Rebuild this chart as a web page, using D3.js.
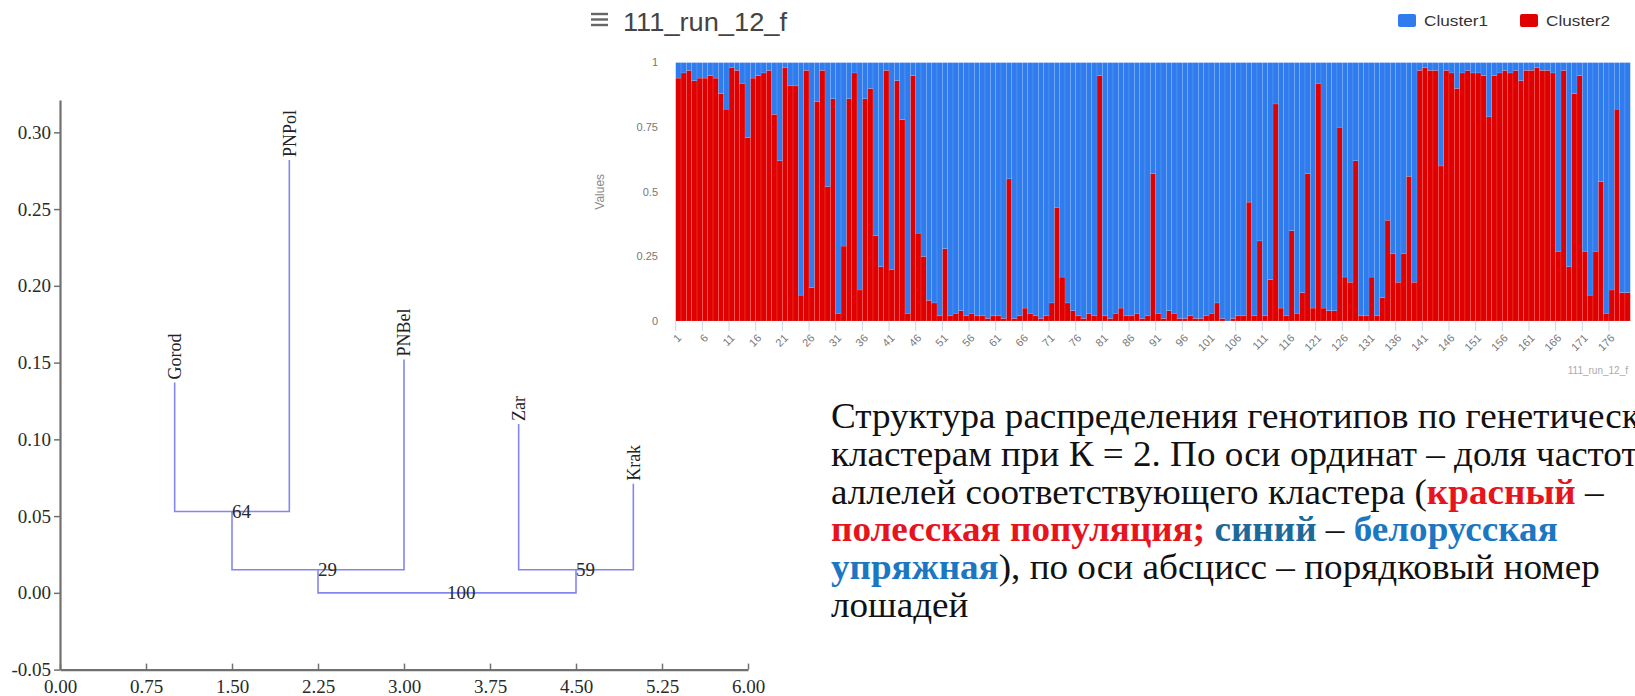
<!DOCTYPE html>
<html>
<head>
<meta charset="utf-8">
<script src="https://cdn.jsdelivr.net/npm/d3@7"></script>
<style>
  html, body { margin: 0; padding: 0; background: #fff; }
  svg { display: block; }
</style>
</head>
<body>
<svg id="chart" width="1635" height="696"></svg>
<script>
// ---- dendrogram (left) ----
const leafNames = ['Gorod', 'PNPol', 'PNBel', 'Zar', 'Krak']
const leafPos = [1, 2, 3, 4, 5]
const leafHeight = [0.137, 0.282, 0.152, 0.110, 0.071]
// merges refer to leaves 0..4, then to earlier merges 5, 6, ...
const mergeLeft = [0, 5, 3, 6]
const mergeRight = [1, 2, 4, 7]
const mergeHeight = [0.053, 0.015, 0.015, 0.0]
const mergeSupport = ['64', '29', '59', '100']
const dendroXTicks = [0, 0.75, 1.5, 2.25, 3, 3.75, 4.5, 5.25, 6]
const dendroYTicks = [-0.05, 0, 0.05, 0.1, 0.15, 0.2, 0.25, 0.3]

// ---- structure plot (top right) ----
const chartTitle = '111_run_12_f'
const clusterNames = ['Cluster1', 'Cluster2']
const horseIds = d3.range(1, 180)
const cluster2 = [
  0.94, 0.96, 0.97, 0.93, 0.94, 0.94, 0.95, 0.94, 0.88, 0.82,
  0.98, 0.97, 0.92, 0.71, 0.94, 0.95, 0.96, 0.97, 0.80, 0.62,
  0.98, 0.91, 0.91, 0.10, 0.97, 0.13, 0.85, 0.97, 0.52, 0.86,
  0.03, 0.29, 0.86, 0.96, 0.12, 0.86, 0.90, 0.33, 0.21, 0.97,
  0.20, 0.93, 0.78, 0.03, 0.95, 0.34, 0.25, 0.08, 0.07, 0.02,
  0.28, 0.02, 0.03, 0.04, 0.02, 0.03, 0.02, 0.02, 0.01, 0.02,
  0.02, 0.01, 0.55, 0.01, 0.02, 0.05, 0.03, 0.02, 0.01, 0.02,
  0.07, 0.44, 0.17, 0.07, 0.04, 0.02, 0.01, 0.03, 0.02, 0.95,
  0.02, 0.01, 0.03, 0.05, 0.02, 0.02, 0.03, 0.01, 0.02, 0.57,
  0.03, 0.01, 0.04, 0.03, 0.01, 0.01, 0.02, 0.01, 0.01, 0.02,
  0.03, 0.07, 0.01, 0.00, 0.01, 0.02, 0.02, 0.46, 0.02, 0.31,
  0.02, 0.16, 0.84, 0.05, 0.02, 0.35, 0.03, 0.11, 0.57, 0.05,
  0.92, 0.05, 0.04, 0.04, 0.75, 0.17, 0.15, 0.62, 0.02, 0.02,
  0.17, 0.02, 0.09, 0.39, 0.26, 0.15, 0.26, 0.56, 0.15, 0.97,
  0.98, 0.97, 0.97, 0.60, 0.97, 0.96, 0.90, 0.96, 0.97, 0.96,
  0.96, 0.95, 0.79, 0.95, 0.96, 0.97, 0.96, 0.97, 0.93, 0.97,
  0.97, 0.98, 0.97, 0.97, 0.96, 0.27, 0.97, 0.21, 0.88, 0.95,
  0.27, 0.10, 0.27, 0.54, 0.03, 0.12, 0.82, 0.11, 0.11
]
const cluster1 = [
  0.06, 0.04, 0.03, 0.07, 0.06, 0.06, 0.05, 0.06, 0.12, 0.18,
  0.02, 0.03, 0.08, 0.29, 0.06, 0.05, 0.04, 0.03, 0.20, 0.38,
  0.02, 0.09, 0.09, 0.90, 0.03, 0.87, 0.15, 0.03, 0.48, 0.14,
  0.97, 0.71, 0.14, 0.04, 0.88, 0.14, 0.10, 0.67, 0.79, 0.03,
  0.80, 0.07, 0.22, 0.97, 0.05, 0.66, 0.75, 0.92, 0.93, 0.98,
  0.72, 0.98, 0.97, 0.96, 0.98, 0.97, 0.98, 0.98, 0.99, 0.98,
  0.98, 0.99, 0.45, 0.99, 0.98, 0.95, 0.97, 0.98, 0.99, 0.98,
  0.93, 0.56, 0.83, 0.93, 0.96, 0.98, 0.99, 0.97, 0.98, 0.05,
  0.98, 0.99, 0.97, 0.95, 0.98, 0.98, 0.97, 0.99, 0.98, 0.43,
  0.97, 0.99, 0.96, 0.97, 0.99, 0.99, 0.98, 0.99, 0.99, 0.98,
  0.97, 0.93, 0.99, 1.00, 0.99, 0.98, 0.98, 0.54, 0.98, 0.69,
  0.98, 0.84, 0.16, 0.95, 0.98, 0.65, 0.97, 0.89, 0.43, 0.95,
  0.08, 0.95, 0.96, 0.96, 0.25, 0.83, 0.85, 0.38, 0.98, 0.98,
  0.83, 0.98, 0.91, 0.61, 0.74, 0.85, 0.74, 0.44, 0.85, 0.03,
  0.02, 0.03, 0.03, 0.40, 0.03, 0.04, 0.10, 0.04, 0.03, 0.04,
  0.04, 0.05, 0.21, 0.05, 0.04, 0.03, 0.04, 0.03, 0.07, 0.03,
  0.03, 0.02, 0.03, 0.03, 0.04, 0.73, 0.03, 0.79, 0.12, 0.05,
  0.73, 0.90, 0.73, 0.46, 0.97, 0.88, 0.18, 0.89, 0.89
]
const valueTicks = [0, 0.25, 0.5, 0.75, 1]

// ---- caption (bottom right); the slide crops the first two lines at its edge ----
const captionLines = [
  [['Структура распределения генотипов по генетическ', 'n']],
  [['кластерам при К = 2. По оси ординат – доля частот', 'n']],
  [['аллелей соответствующего кластера (', 'n'], ['красный', 'red'], [' –', 'n']],
  [['полесская популяция;', 'red'], [' ', 'n'], ['синий', 'navy'], [' – ', 'n'], ['белорусская', 'blue']],
  [['упряжная', 'blue'], ['), по оси абсцисс – порядковый номер', 'n']],
  [['лошадей', 'n']]
]

const svg = d3.select('#chart')
const serif = "'Liberation Serif', 'Times New Roman', serif"
const narrow = "'Liberation Sans Narrow', 'Arial Narrow', 'Liberation Sans', sans-serif"
const sans = "'Liberation Sans', Arial, sans-serif"

svg.append('rect').attr('width', 1635).attr('height', 696).attr('fill', '#fff')

// ===== dendrogram =====
const dx = d3.scaleLinear().domain([0, 6]).range([60, 748])
const dy = d3.scaleLinear().domain([-0.05, 0.321]).range([669.6, 100.1])
const dendro = svg.append('g')

const yAx = dendro.append('g')
  .attr('transform', `translate(${dx(0)},0)`)
  .call(d3.axisLeft(dy).tickValues(dendroYTicks).tickSize(6).tickSizeOuter(0).tickPadding(3)
    .tickFormat(d => d.toFixed(2)))
const xAx = dendro.append('g')
  .attr('transform', `translate(0,${dy(-0.05)})`)
  .call(d3.axisBottom(dx).tickValues(dendroXTicks).tickSizeInner(-6).tickSizeOuter(0).tickPadding(10)
    .tickFormat(d => d.toFixed(2)))
;[yAx, xAx].forEach(a => {
  a.attr('font-family', serif).attr('font-size', 19)
  a.select('.domain').attr('stroke', '#707070').attr('stroke-width', 2.2)
  a.selectAll('.tick line').attr('stroke', '#707070').attr('stroke-width', 1.5)
  a.selectAll('.tick text').attr('fill', '#2a2a2a')
})

// node positions: leaves first, then merges
const nodeX = leafPos.slice()
const nodeH = leafHeight.slice()
mergeLeft.forEach((l, k) => {
  nodeX.push((nodeX[l] + nodeX[mergeRight[k]]) / 2)
  nodeH.push(mergeHeight[k])
})

dendro.append('g').selectAll('path')
  .data(mergeLeft.map((l, k) => ({ l, r: mergeRight[k], h: mergeHeight[k] })))
  .join('path')
  .attr('d', m => `M${dx(nodeX[m.l])},${dy(nodeH[m.l])}V${dy(m.h)}H${dx(nodeX[m.r])}V${dy(nodeH[m.r])}`)
  .attr('fill', 'none')
  .attr('stroke', '#8585f2')
  .attr('stroke-width', 1.6)

dendro.append('g').selectAll('text')
  .data(leafNames)
  .join('text')
  .attr('transform', (d, i) => `translate(${dx(leafPos[i])},${dy(leafHeight[i]) - 3}) rotate(-90)`)
  .attr('dy', '0.35em')
  .attr('font-family', serif)
  .attr('font-size', 18)
  .attr('fill', '#222')
  .text(d => d)

dendro.append('g').selectAll('text')
  .data(mergeSupport)
  .join('text')
  .attr('x', (d, k) => dx(nodeX[leafNames.length + k]))
  .attr('y', (d, k) => dy(mergeHeight[k]))
  .attr('dy', '0.35em')
  .attr('font-family', serif)
  .attr('font-size', 19)
  .attr('fill', '#2a2a2a')
  .text(d => d)

// ===== structure bar chart =====
const plot = { left: 675.7, right: 1630.3, top: 62.6, bottom: 321 }
const x = d3.scaleBand().domain(horseIds).range([plot.left, plot.right]).padding(0)
const y = d3.scaleLinear().domain([0, 1]).range([plot.bottom, plot.top])
const colour = { Cluster1: '#2f7cee', Cluster2: '#e00000' }

const rows = horseIds.map((id, i) => ({ id, Cluster1: cluster1[i], Cluster2: cluster2[i] }))
const stacked = d3.stack().keys(['Cluster2', 'Cluster1'])(rows)

svg.append('g').selectAll('g')
  .data(stacked)
  .join('g')
  .attr('fill', s => colour[s.key])
  .selectAll('rect')
  .data(s => s)
  .join('rect')
  .attr('x', d => x(d.data.id))
  .attr('width', x.bandwidth())
  .attr('y', d => y(d[1]))
  .attr('height', d => Math.max(0, y(d[0]) - y(d[1])))
  .attr('stroke', '#fff')
  .attr('stroke-opacity', 0.22)
  .attr('stroke-width', 0.5)

const labelIds = horseIds.filter(id => (id - 1) % 5 === 0)
const xAxisG = svg.append('g')
xAxisG.selectAll('line')
  .data(labelIds)
  .join('line')
  .attr('x1', d => x(d)).attr('x2', d => x(d))
  .attr('y1', plot.bottom).attr('y2', plot.bottom + 10)
  .attr('stroke', '#ccd6eb')
xAxisG.selectAll('text')
  .data(labelIds)
  .join('text')
  .attr('transform', d => `translate(${x(d) + x.bandwidth() / 2 + 1},${plot.bottom + 15}) rotate(-45)`)
  .attr('text-anchor', 'end')
  .attr('dy', '0.35em')
  .attr('font-family', sans)
  .attr('font-size', 11)
  .attr('fill', '#777')
  .text(d => d)

svg.append('g').selectAll('text')
  .data(valueTicks)
  .join('text')
  .attr('x', 658)
  .attr('y', d => y(d))
  .attr('dy', '0.35em')
  .attr('text-anchor', 'end')
  .attr('font-family', sans)
  .attr('font-size', 11)
  .attr('fill', '#777')
  .text(d => String(d))

svg.append('text')
  .attr('transform', `translate(604,${(plot.top + plot.bottom) / 2}) rotate(-90)`)
  .attr('text-anchor', 'middle')
  .attr('font-family', sans)
  .attr('font-size', 12)
  .attr('fill', '#888')
  .text('Values')

// title with menu icon
svg.append('g').selectAll('rect')
  .data([14, 19.5, 25])
  .join('rect')
  .attr('x', 591).attr('y', d => d - 1.2)
  .attr('width', 17).attr('height', 2.4)
  .attr('fill', '#666')
svg.append('text')
  .attr('x', 623).attr('y', 31)
  .attr('font-family', narrow)
  .attr('font-size', 25)
  .attr('fill', '#444')
  .attr('textLength', 164)
  .attr('lengthAdjust', 'spacingAndGlyphs')
  .text(chartTitle)

// legend
const legendX = [1398, 1520]
const legend = svg.append('g').selectAll('g')
  .data(clusterNames)
  .join('g')
  .attr('transform', (d, i) => `translate(${legendX[i]},0)`)
legend.append('rect')
  .attr('x', 0).attr('y', 14).attr('width', 18).attr('height', 13).attr('rx', 2)
  .attr('fill', d => colour[d])
legend.append('text')
  .attr('x', 26).attr('y', 26)
  .attr('font-family', narrow)
  .attr('font-size', 15)
  .attr('fill', '#333')
  .attr('textLength', 64)
  .attr('lengthAdjust', 'spacingAndGlyphs')
  .text(d => d)

// credits
svg.append('text')
  .attr('x', 1628).attr('y', 374)
  .attr('text-anchor', 'end')
  .attr('font-family', narrow)
  .attr('font-size', 10)
  .attr('fill', '#aaa')
  .text(chartTitle)

// ===== caption =====
const inkColour = { n: '#111', red: '#e6141c', navy: '#1d6a9a', blue: '#1c77c3' }
const capX = 831, capY = 428, capStep = 37.8
const caption = svg.append('g')
const capText = caption.selectAll('text')
  .data(captionLines)
  .join('text')
  .attr('xml:space', 'preserve')
  .attr('font-family', serif)
  .attr('font-size', 35)
  .attr('transform', (d, i) => `translate(${capX},${capY + i * capStep})`)
capText.selectAll('tspan')
  .data(d => d)
  .join('tspan')
  .attr('fill', d => inkColour[d[1]])
  .attr('font-weight', d => d[1] === 'n' ? 'normal' : 'bold')
  .text(d => d[0])

// fit the slide's slightly widened type: line 4 ends near x = 1558
const w4 = capText.nodes()[3].getComputedTextLength()
const sx = (1558 - capX) / w4
capText.attr('transform', (d, i) => `translate(${capX},${capY + i * capStep}) scale(${sx},1)`)
</script>
</body>
</html>
